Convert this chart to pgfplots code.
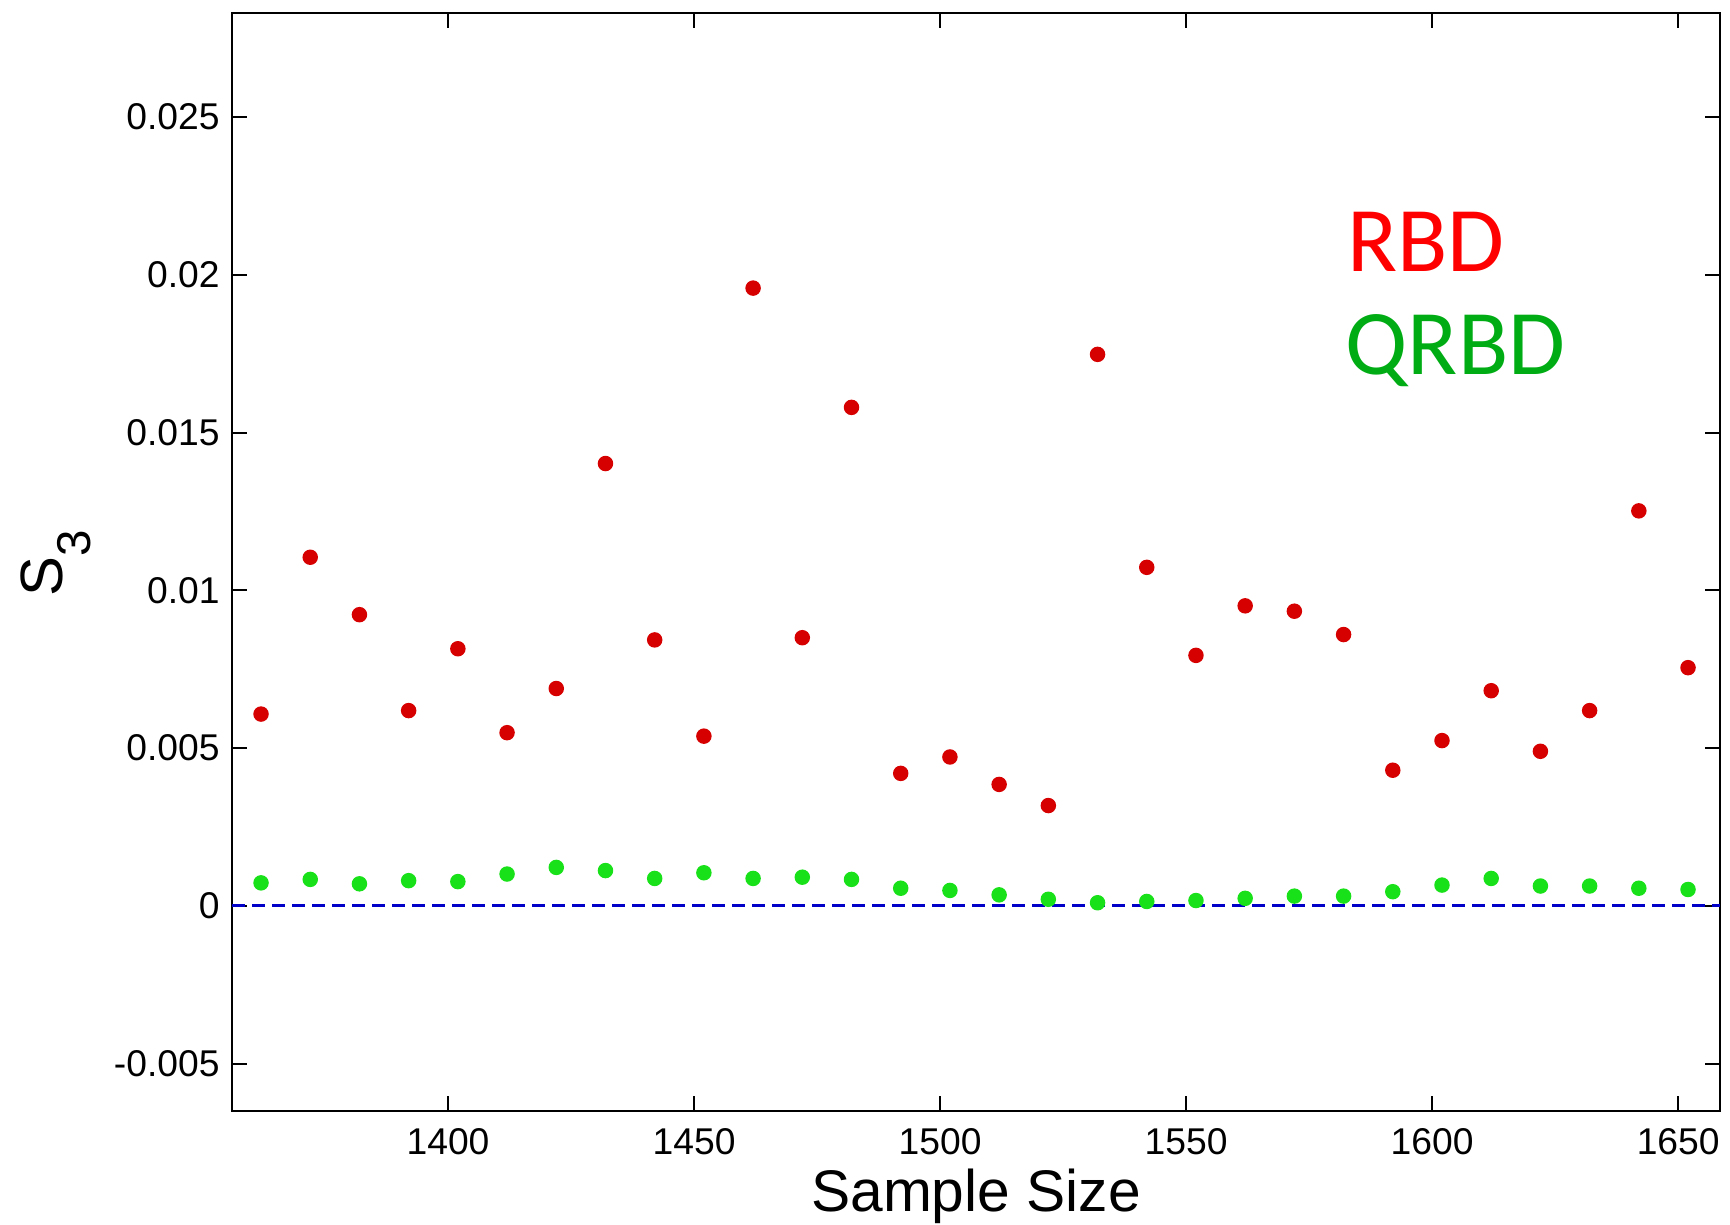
\documentclass[border=0pt]{standalone}
\usepackage{pgfplots}
\pgfplotsset{compat=1.18}
\usepackage{fontspec}
\setmainfont{Liberation Sans}
\newfontfamily\carlito{Carlito}

\definecolor{dotred}{RGB}{215,0,0}
\definecolor{dotgreen}{RGB}{25,225,25}
\definecolor{txtred}{RGB}{255,0,0}
\definecolor{txtgreen}{RGB}{0,172,20}
\definecolor{zeroblue}{RGB}{0,0,200}

\pgfplotstableread{
n     rbd      qrbd
1362  0.00608  0.00073
1372  0.01105  0.00084
1382  0.00923  0.00070
1392  0.00619  0.00080
1402  0.00815  0.00077
1412  0.00549  0.00101
1422  0.00689  0.00122
1432  0.01402  0.00112
1442  0.00843  0.00087
1452  0.00538  0.00105
1462  0.01958  0.00087
1472  0.00850  0.00091
1482  0.01580  0.00084
1492  0.00420  0.00056
1502  0.00472  0.00049
1512  0.00385  0.00035
1522  0.00318  0.00021
1532  0.01748  0.00010
1542  0.01073  0.00014
1552  0.00794  0.00017
1562  0.00951  0.00024
1572  0.00934  0.00031
1582  0.00860  0.00031
1592  0.00430  0.00045
1602  0.00524  0.00066
1612  0.00682  0.00087
1622  0.00490  0.00063
1632  0.00619  0.00063
1642  0.01252  0.00056
1652  0.00755  0.00052
}\samples

\begin{document}
\begin{tikzpicture}
\begin{axis}[
  name=ax,
  scale only axis,
  width=14.88cm, height=10.98cm,
  xmin=1356.1, xmax=1658.5,
  ymin=-0.0065, ymax=0.0283,
  xtick={1400,1450,1500,1550,1600,1650},
  ytick={-0.005,0,0.005,0.01,0.015,0.02,0.025},
  scaled y ticks=false,
  xticklabel style={/pgf/number format/set thousands separator={}, yshift=-0.05cm},
  yticklabel style={/pgf/number format/fixed, /pgf/number format/precision=3},
  /pgf/number format/assume math mode=true,
  tick label style={font=\fontsize{10.6}{12}\selectfont},
  tick align=inside,
  major tick length=0.15cm,
  axis line style={line width=0.6pt},
  every tick/.style={black, line width=0.6pt},
  xlabel={Sample Size},
  ylabel={S\raisebox{-8pt}{\fontsize{13.5}{14}\selectfont 3}},
  every axis x label/.style={at={(axis description cs:0.5,0)}, anchor=base, yshift=-1.01cm, font=\fontsize{16.7}{18}\selectfont},
  every axis y label/.style={at={(axis description cs:-0.1142,0.499)}, rotate=90, anchor=base, font=\fontsize{17}{18}\selectfont},
]
\addplot[zeroblue, line width=0.9pt, dash pattern=on 0.13cm off 0.07cm] coordinates {(1356.1,0) (1658.5,0)};
\addplot[only marks, mark=*, mark size=2pt, dotred, mark options={draw=dotred, fill=dotred}] table[x=n, y=rbd] {\samples};
\addplot[only marks, mark=*, mark size=2pt, dotgreen, mark options={draw=dotgreen, fill=dotgreen}] table[x=n, y=qrbd] {\samples};
\node[anchor=base west, inner sep=0pt, text=txtred, font=\carlito\fontsize{26.3}{28}\selectfont] at (axis description cs:0.749,0.7641) {RBD};
\node[anchor=base west, inner sep=0pt, text=txtgreen, font=\carlito\fontsize{26.3}{28}\selectfont] at (axis description cs:0.748,0.6703) {QRBD};
\end{axis}
\pgfresetboundingbox
\path ([xshift=-2.32cm, yshift=-1.14cm]ax.south west) rectangle ([xshift=0.10cm, yshift=0.13cm]ax.north east);
\end{tikzpicture}
\end{document}
